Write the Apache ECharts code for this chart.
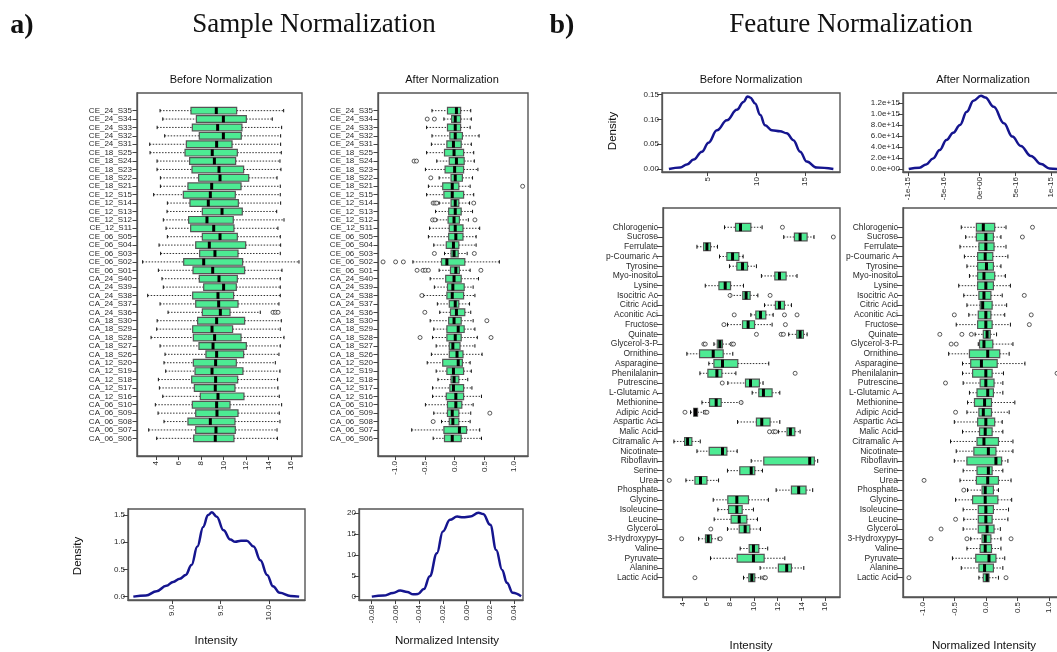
<!DOCTYPE html>
<html>
<head>
<meta charset="utf-8">
<title>Sample and feature normalization</title>
<script src="https://cdn.jsdelivr.net/npm/echarts@6/dist/echarts.min.js"></script>
<style>
html,body{margin:0;padding:0;background:#fff}
#main{width:1057px;height:652px}
</style>
</head>
<body>
<div id="main"></div>
<script>
// ---- a) sample normalization ----
var sampleNames = ['CE_24_S35','CE_24_S34','CE_24_S33','CE_24_S32','CE_24_S31','CE_18_S25','CE_18_S24','CE_18_S23','CE_18_S22','CE_18_S21',
  'CE_12_S15','CE_12_S14','CE_12_S13','CE_12_S12','CE_12_S11','CE_06_S05','CE_06_S04','CE_06_S03','CE_06_S02','CE_06_S01',
  'CA_24_S40','CA_24_S39','CA_24_S38','CA_24_S37','CA_24_S36','CA_18_S30','CA_18_S29','CA_18_S28','CA_18_S27','CA_18_S26',
  'CA_12_S20','CA_12_S19','CA_12_S18','CA_12_S17','CA_12_S16','CA_06_S10','CA_06_S09','CA_06_S08','CA_06_S07','CA_06_S06'];

// [lower whisker, q1, median, q3, upper whisker]
var sampleBefore = [
  [4.36,7.11,9.36,11.17,15.35],[4.60,7.59,9.99,12.03,14.34],[4.10,7.23,9.48,11.64,15.17],[4.77,7.85,9.99,11.58,15.08],
  [3.44,6.70,9.39,10.76,15.08],[3.47,6.58,9.00,11.23,15.14],[4.09,6.99,9.19,11.08,15.02],[4.09,7.20,9.60,11.79,15.11],
  [4.39,7.79,9.69,12.24,14.76],[4.39,6.84,8.95,11.56,15.05],[3.79,6.43,8.83,11.05,15.05],[5.01,7.02,8.65,11.32,15.08],
  [4.98,8.12,9.87,11.67,14.73],[4.65,6.90,8.53,10.87,15.38],[4.89,7.08,9.13,10.93,14.84],[5.01,8.12,9.69,11.23,15.05],
  [4.27,7.53,8.74,11.97,15.08],[4.41,7.88,9.24,11.29,15.05],[2.81,6.46,8.24,11.70,16.71],[4.21,7.29,9.04,11.88,15.20],
  [4.53,7.85,9.60,11.23,15.05],[4.65,8.24,10.01,11.14,15.05],[3.26,7.26,9.51,10.90,15.05],[4.36,7.53,9.57,11.29,14.93],
  [5.07,8.12,9.72,10.58,13.27],[4.10,7.70,9.39,11.88,15.14],[4.06,7.26,8.98,10.81,15.05],[3.56,7.32,9.21,11.56,15.38],
  [4.36,7.82,9.07,12.03,15.05],[4.80,8.44,9.39,11.79,14.93],[4.71,7.32,9.30,11.14,14.61],[4.86,7.47,8.98,11.73,15.02],
  [4.21,7.17,9.30,11.26,14.81],[4.30,7.41,9.27,11.02,14.84],[4.60,7.94,9.51,11.82,14.96],[3.94,7.23,9.39,10.58,15.17],
  [4.18,7.53,9.42,11.29,14.96],[4.71,6.84,8.83,11.02,15.02],[3.35,7.53,9.33,11.05,14.76],[4.06,7.35,9.27,10.93,14.79]
];
// outliers: [row (1 = top), value]
var sampleBeforeOut = [[25,14.40],[25,14.62],[25,14.85]];

var sampleAfter = [
  [-0.38,-0.12,0.03,0.10,0.27],[-0.18,-0.05,0.01,0.10,0.28],[-0.47,-0.12,0.01,0.10,0.26],[-0.38,-0.08,0.01,0.13,0.41],
  [-0.39,-0.13,-0.02,0.11,0.28],[-0.47,-0.17,-0.01,0.15,0.32],[-0.30,-0.09,0.03,0.16,0.33],[-0.49,-0.16,0.00,0.15,0.39],
  [-0.26,-0.06,0.01,0.13,0.30],[-0.44,-0.20,-0.04,0.07,0.26],[-0.47,-0.18,-0.04,0.15,0.32],[-0.26,-0.06,0.01,0.07,0.25],
  [-0.32,-0.10,0.01,0.11,0.30],[-0.30,-0.11,-0.01,0.08,0.23],[-0.42,-0.09,0.01,0.14,0.42],[-0.44,-0.10,0.02,0.14,0.36],
  [-0.35,-0.14,-0.02,0.07,0.36],[-0.17,-0.06,-0.01,0.06,0.21],[-0.70,-0.22,-0.13,0.17,0.75],[-0.26,-0.07,0.02,0.08,0.26],
  [-0.41,-0.15,-0.01,0.11,0.40],[-0.34,-0.12,-0.03,0.16,0.31],[-0.52,-0.13,-0.04,0.15,0.34],[-0.29,-0.09,0.01,0.07,0.25],
  [-0.25,-0.07,0.03,0.17,0.27],[-0.41,-0.10,-0.01,0.11,0.31],[-0.35,-0.13,0.06,0.16,0.34],[-0.37,-0.13,0.01,0.11,0.38],
  [-0.31,-0.09,-0.03,0.09,0.34],[-0.39,-0.09,0.04,0.14,0.46],[-0.46,-0.20,0.06,0.13,0.26],[-0.31,-0.13,-0.02,0.15,0.28],
  [-0.28,-0.06,-0.01,0.07,0.22],[-0.37,-0.08,-0.02,0.15,0.29],[-0.37,-0.14,0.02,0.15,0.45],[-0.49,-0.12,0.02,0.12,0.31],
  [-0.35,-0.12,-0.04,0.07,0.27],[-0.22,-0.09,-0.03,0.07,0.26],[-0.72,-0.18,0.08,0.20,0.42],[-0.36,-0.17,-0.04,0.11,0.45]
];
var sampleAfterOut = [[2,-0.46],[2,-0.34],[7,-0.68],[7,-0.64],[9,-0.40],[10,1.14],[12,-0.36],[12,-0.33],[12,-0.30],[12,0.32],
  [14,-0.37],[14,-0.33],[14,0.34],[18,-0.34],[18,0.33],[19,-1.20],[19,-0.99],[19,-0.86],[20,-0.63],[20,-0.53],[20,-0.49],
  [20,-0.44],[20,0.44],[23,-0.55],[25,-0.50],[26,0.54],[28,-0.58],[28,0.61],[37,0.59],[38,-0.36]];

// density curves [x, density]
var sampleBeforeDens = [[8.60,0],[8.73,0.02],[8.84,0.10],[8.94,0.20],[9.01,0.27],[9.08,0.33],[9.14,0.40],[9.20,0.58],
  [9.26,0.92],[9.32,1.28],[9.37,1.50],[9.41,1.55],[9.46,1.47],[9.53,1.22],[9.60,1.05],[9.65,1.01],[9.71,1.03],[9.77,1.03],
  [9.84,0.92],[9.91,0.67],[9.98,0.40],[10.04,0.19],[10.11,0.07],[10.22,0.01],[10.31,0]];
var sampleAfterDens = [[-0.0799,0],[-0.070,0.24],[-0.062,0.88],[-0.056,1.45],[-0.050,1.10],[-0.045,0.55],[-0.041,0.62],
  [-0.036,1.8],[-0.031,4.9],[-0.025,10.4],[-0.020,15.6],[-0.014,18.4],[-0.008,19.2],[-0.003,19.0],[0.003,19.2],[0.010,20.1],
  [0.014,19.8],[0.020,17.2],[0.025,11.2],[0.030,6.4],[0.034,3.3],[0.039,0.9],[0.046,0.08]];

// ---- b) feature normalization ----
var featureNames = ['Chlorogenic','Sucrose','Ferrulate','p-Coumaric A','Tyrosine','Myo-inositol','Lysine','Isocitric Ac',
  'Citric Acid','Aconitic Aci','Fructose','Quinate','Glycerol-3-P','Ornithine','Asparagine','Phenilalanin','Putrescine',
  'L-Glutamic A','Methionine','Adipic Acid','Aspartic Aci','Malic Acid','Citramalic A','Nicotinate','Riboflavin','Serine',
  'Urea','Phosphate','Glycine','Isoleucine','Leucine','Glycerol','3-Hydroxypyr','Valine','Pyruvate','Alanine','Lactic Acid'];

var featBefore = [
  [7.53,8.46,8.88,9.75,10.70],[12.52,13.42,13.90,14.49,15.07],[5.21,5.77,6.05,6.35,6.94],[7.11,7.73,8.21,8.74,9.10],
  [7.95,8.57,9.05,9.47,10.22],[10.64,11.77,12.16,12.72,13.64],[5.91,7.06,7.59,8.04,9.13],[8.04,9.07,9.35,9.69,10.34],
  [10.90,11.82,12.16,12.58,13.17],[9.75,10.17,10.56,11.01,11.63],[7.78,9.05,9.52,10.06,11.54],[12.94,13.62,13.90,14.18,14.49],
  [6.64,6.92,7.14,7.36,8.04],[4.36,5.43,6.58,7.42,8.23],[6.21,6.64,7.36,8.65,11.26],[5.46,6.13,6.89,7.31,8.49],
  [7.81,9.30,9.72,10.47,10.78],[9.86,10.42,10.81,11.54,12.19],[5.63,6.27,6.83,7.25,8.99],[4.67,4.93,5.09,5.26,5.77],
  [8.63,10.22,10.67,11.37,12.19],[12.07,12.80,13.08,13.45,13.90],[3.27,4.17,4.42,4.78,5.49],[5.21,6.24,7.36,7.73,8.60],
  [9.78,10.84,14.71,15.10,15.38],[7.78,8.82,9.78,10.08,10.73],[4.28,5.04,5.51,6.05,7.03],[11.88,13.17,13.78,14.40,14.96],
  [6.58,7.81,8.57,9.55,11.23],[6.97,7.87,8.57,9.02,9.97],[6.66,8.09,8.77,9.41,10.31],[7.78,8.77,9.27,9.66,10.56],
  [5.35,5.93,6.16,6.44,7.00],[8.85,9.61,9.97,10.42,11.17],[6.35,8.60,9.97,10.87,12.61],[10.53,12.07,12.77,13.17,14.21],
  [9.13,9.58,9.83,10.08,10.59]
];
var featBeforeOut = [[1,12.41],[2,16.70],[8,8.00],[8,11.37],[10,8.35],[10,12.58],[10,13.64],[11,7.48],[11,12.66],
  [12,10.22],[12,12.30],[12,12.49],[13,5.79],[13,5.91],[13,8.15],[13,8.29],[16,13.48],[17,7.34],[19,8.93],[20,4.20],
  [20,5.91],[20,6.05],[22,11.32],[22,11.65],[22,11.82],[27,2.88],[32,6.38],[33,3.92],[33,7.17],[37,5.04],[37,10.87],[37,10.98]];

var featAfter = [
  [-0.39,-0.15,-0.04,0.14,0.32],[-0.32,-0.15,0.00,0.12,0.24],[-0.41,-0.11,0.00,0.13,0.32],[-0.34,-0.13,-0.01,0.11,0.35],
  [-0.30,-0.13,0.01,0.12,0.24],[-0.26,-0.13,-0.03,0.14,0.31],[-0.43,-0.13,0.00,0.12,0.39],[-0.35,-0.11,-0.03,0.08,0.26],
  [-0.30,-0.09,-0.05,0.10,0.33],[-0.27,-0.12,0.00,0.08,0.30],[-0.47,-0.13,0.00,0.10,0.39],[-0.17,-0.04,0.02,0.07,0.17],
  [-0.12,-0.10,-0.03,0.11,0.43],[-0.59,-0.26,0.03,0.22,0.37],[-0.37,-0.24,-0.07,0.18,0.62],[-0.37,-0.21,0.00,0.10,0.28],
  [-0.36,-0.09,0.00,0.13,0.27],[-0.26,-0.14,0.03,0.12,0.27],[-0.29,-0.18,-0.02,0.09,0.46],[-0.30,-0.11,-0.04,0.09,0.37],
  [-0.50,-0.13,0.00,0.14,0.26],[-0.37,-0.10,-0.01,0.10,0.27],[-0.56,-0.14,-0.03,0.20,0.43],[-0.47,-0.19,0.04,0.16,0.43],
  [-0.50,-0.30,0.16,0.25,0.35],[-0.36,-0.14,0.04,0.10,0.27],[-0.41,-0.15,0.03,0.20,0.40],[-0.29,-0.06,-0.01,0.12,0.20],
  [-0.48,-0.21,-0.01,0.19,0.41],[-0.36,-0.12,0.00,0.12,0.36],[-0.35,-0.12,0.00,0.10,0.35],[-0.36,-0.12,0.02,0.13,0.23],
  [-0.24,-0.06,-0.01,0.08,0.24],[-0.30,-0.09,-0.01,0.09,0.24],[-0.53,-0.16,0.05,0.16,0.30],[-0.39,-0.11,-0.02,0.12,0.27],
  [-0.11,-0.04,0.02,0.05,0.20]
];
var featAfterOut = [[1,0.74],[2,0.58],[8,0.61],[10,-0.50],[10,0.72],[11,0.69],[12,-0.73],[12,-0.38],[12,-0.23],
  [13,-0.55],[13,-0.47],[16,1.13],[17,-0.64],[20,-0.48],[27,-0.98],[28,-0.35],[31,-0.48],[32,-0.71],[33,-0.87],
  [33,-0.30],[33,0.40],[37,-1.22],[37,0.32]];

var featBeforeDens = [[1.04,0],[2.2,0.003],[2.88,0.009],[3.57,0.019],[4.42,0.035],[5.10,0.053],[5.96,0.078],[6.98,0.098],
  [8.0,0.119],[8.69,0.135],[9.1,0.146],[9.37,0.144],[9.88,0.132],[10.39,0.109],[10.9,0.088],[11.59,0.078],[12.44,0.076],
  [13.12,0.072],[13.8,0.058],[14.49,0.035],[15.17,0.015],[16.19,0.003],[17.9,0]];
// x in units of 1e-16, density in units of 1e14
var featAfterDens = [[-9.9,0],[-8.4,0.24],[-7.46,0.85],[-6.5,1.94],[-5.57,3.45],[-4.63,5.27],[-3.68,6.6],[-2.74,8.0],
  [-1.79,10.4],[-0.85,12.4],[0.2,13.3],[0.8,13.0],[1.98,11.3],[3.4,8.3],[4.58,5.9],[5.76,4.2],[7.18,2.36],[8.6,0.9],
  [9.77,0.12],[10.95,0]];

// tick values and labels
var intensityTicks = [4,6,8,10,12,14,16];
var intensityLabels = ['4','6','8','10','12','14','16'];
var normTicks = [-1,-0.5,0,0.5,1];
var normLabels = ['-1.0','-0.5','0.0','0.5','1.0'];
var sDensBeforeXTicks = [9,9.5,10];
var sDensBeforeXLabels = ['9.0','9.5','10.0'];
var sDensBeforeYTicks = [0,0.5,1,1.5];
var sDensBeforeYLabels = ['0.0','0.5','1.0','1.5'];
var sDensAfterXTicks = [-0.08,-0.06,-0.04,-0.02,0,0.02,0.04];
var sDensAfterXLabels = ['-0.08','-0.06','-0.04','-0.02','0.00','0.02','0.04'];
var sDensAfterYTicks = [0,5,10,15,20];
var sDensAfterYLabels = ['0','5','10','15','20'];
var fDensBeforeXTicks = [5,10,15];
var fDensBeforeXLabels = ['5','10','15'];
var fDensBeforeYTicks = [0,0.05,0.1,0.15];
var fDensBeforeYLabels = ['0.00','0.05','0.10','0.15'];
var fDensAfterXTicks = [-10,-5,0,5,10];
var fDensAfterXLabels = ['-1e-15','-5e-16','0e+00','5e-16','1e-15'];
var fDensAfterYTicks = [0,2,4,6,8,10,12];
var fDensAfterYLabels = ['0.0e+00','2.0e+14','4.0e+14','6.0e+14','8.0e+14','1.0e+15','1.2e+15'];

var FONT = 'Liberation Sans';
var BOX_FILL = '#4DEB93';
var LINE_BLUE = '#15158f';

function pick(ticks, labels) {
  return function (v) {
    var best = 0;
    for (var i = 1; i < ticks.length; i++) {
      if (Math.abs(ticks[i] - v) < Math.abs(ticks[best] - v)) best = i;
    }
    return labels[best];
  };
}

function axis(gi, min, max, ticks, labels, rotate, inverse, fs, tl, mg) {
  return {
    gridIndex: gi, type: 'value', min: min, max: max, inverse: !!inverse,
    axisLine: { show: true, onZero: false, lineStyle: { color: '#555', width: 1.3 } },
    axisTick: { show: true, customValues: ticks, length: tl || 4.5, lineStyle: { color: '#444' } },
    axisLabel: { customValues: ticks, formatter: pick(ticks, labels), rotate: rotate, fontSize: fs || 8,
      color: '#2a2a2a', fontFamily: FONT, margin: mg == null ? 4 : mg },
    splitLine: { show: false }
  };
}

function rowIdx(names) { return names.map(function (_, i) { return i + 1; }); }

function renderBox(params, api) {
  var pos = api.value(0);
  var lo = api.coord([api.value(1), pos]);
  var q1 = api.coord([api.value(2), pos]);
  var md = api.coord([api.value(3), pos]);
  var q3 = api.coord([api.value(4), pos]);
  var hi = api.coord([api.value(5), pos]);
  var h = Math.abs(api.size([0, 1])[1]) * 0.4;
  var cy = lo[1];
  var cap = h * 0.5;
  var dash = { stroke: '#333', lineWidth: 1, lineDash: [1.5, 1.5] };
  var solid = { stroke: '#111', lineWidth: 1 };
  return {
    type: 'group',
    children: [
      { type: 'line', shape: { x1: lo[0], y1: cy, x2: q1[0], y2: cy }, style: dash },
      { type: 'line', shape: { x1: q3[0], y1: cy, x2: hi[0], y2: cy }, style: dash },
      { type: 'line', shape: { x1: lo[0], y1: cy - cap, x2: lo[0], y2: cy + cap }, style: solid },
      { type: 'line', shape: { x1: hi[0], y1: cy - cap, x2: hi[0], y2: cy + cap }, style: solid },
      { type: 'rect', shape: { x: q1[0], y: cy - h, width: q3[0] - q1[0], height: 2 * h },
        style: { fill: BOX_FILL, stroke: '#555', lineWidth: 1.2 } },
      { type: 'line', shape: { x1: md[0], y1: cy - h, x2: md[0], y2: cy + h }, style: { stroke: '#000', lineWidth: 3 } }
    ]
  };
}

function boxSeries(rows, ai) {
  return {
    type: 'custom', xAxisIndex: ai, yAxisIndex: ai,
    data: rows.map(function (r, i) { return [i + 1].concat(r); }),
    encode: { x: [1, 2, 3, 4, 5], y: 0 },
    renderItem: renderBox, silent: true
  };
}

function outSeries(outs, ai) {
  return {
    type: 'scatter', xAxisIndex: ai, yAxisIndex: ai, symbol: 'circle', symbolSize: 4,
    data: outs.map(function (o) { return [o[1], o[0]]; }),
    itemStyle: { color: '#fff', borderColor: '#333', borderWidth: 1 }, silent: true
  };
}

function densSeries(pts, ai) {
  return {
    type: 'line', xAxisIndex: ai, yAxisIndex: ai, data: pts, smooth: 0.4, smoothMonotone: 'x',
    showSymbol: false, lineStyle: { color: LINE_BLUE, width: 2.5 }, silent: true
  };
}

function grid(l, t, w, h) {
  return { left: l, top: t, width: w, height: h, show: true, borderColor: '#555', borderWidth: 1.4,
    outerBoundsMode: 'none', containLabel: false };
}

function txt(x, y, s, size, family, weight, rot) {
  return {
    type: 'text', x: x, y: y, rotation: rot || 0, silent: true,
    style: { text: s, x: 0, y: 0, align: 'center', verticalAlign: 'middle', fontSize: size,
      fontFamily: family, fontWeight: weight || 'normal', fill: '#111' }
  };
}

var chart = echarts.init(document.getElementById('main'));
chart.setOption({
  animation: false,
  backgroundColor: '#fff',
  grid: [
    grid(137, 93, 165, 363),    // 0 sample before box
    grid(378, 93, 150, 363),    // 1 sample after box
    grid(128, 509, 177, 91),    // 2 sample before density
    grid(359, 509, 164, 91),    // 3 sample after density
    grid(662, 93, 178, 79),     // 4 feature before density
    grid(903, 93, 161, 79),     // 5 feature after density
    grid(663, 208, 177, 389),   // 6 feature before box
    grid(903, 208, 160, 389)    // 7 feature after box
  ],
  xAxis: [
    axis(0, 2.31, 16.98, intensityTicks, intensityLabels, 90, false, 8, 4, 5),
    axis(1, -1.285, 1.23, normTicks, normLabels, 90, false, 8, 4, 5),
    axis(2, 8.545, 10.37, sDensBeforeXTicks, sDensBeforeXLabels, 90, false, 8, 4, 5),
    axis(3, -0.0907, 0.0476, sDensAfterXTicks, sDensAfterXLabels, 90, false, 8, 4, 5),
    axis(4, 0.33, 18.58, fDensBeforeXTicks, fDensBeforeXLabels, 90, false, 8, 4, 5),
    axis(5, -10.7, 11.8, fDensAfterXTicks, fDensAfterXLabels, 90, false, 8, 4, 5),
    axis(6, 2.35, 17.26, intensityTicks, intensityLabels, 90, false, 8, 4, 5),
    axis(7, -1.314, 1.224, normTicks, normLabels, 90, false, 8, 4, 5)
  ],
  yAxis: [
    axis(0, -1.1, 42.1, rowIdx(sampleNames), sampleNames, 0, true, 8, 4.5, 5),
    axis(1, -1.1, 42.1, rowIdx(sampleNames), sampleNames, 0, true, 8, 4.5, 5),
    axis(2, -0.062, 1.612, sDensBeforeYTicks, sDensBeforeYLabels, 0, false, 8, 5, 3),
    axis(3, -0.81, 21.0, sDensAfterYTicks, sDensAfterYLabels, 0, false, 8, 5, 3),
    axis(4, -0.0059, 0.1529, fDensBeforeYTicks, fDensBeforeYLabels, 0, false, 8, 5, 3),
    axis(5, -0.53, 13.8, fDensAfterYTicks, fDensAfterYLabels, 0, false, 8, 5, 3),
    axis(6, -0.98, 38.98, rowIdx(featureNames), featureNames, 0, true, 8.5, 6, 5),
    axis(7, -0.98, 38.98, rowIdx(featureNames), featureNames, 0, true, 8.5, 6, 5)
  ],
  series: [
    boxSeries(sampleBefore, 0), outSeries(sampleBeforeOut, 0),
    boxSeries(sampleAfter, 1), outSeries(sampleAfterOut, 1),
    densSeries(sampleBeforeDens, 2),
    densSeries(sampleAfterDens, 3),
    densSeries(featBeforeDens, 4),
    densSeries(featAfterDens, 5),
    boxSeries(featBefore, 6), outSeries(featBeforeOut, 6),
    boxSeries(featAfter, 7), outSeries(featAfterOut, 7)
  ],
  graphic: [
    txt(22, 26, 'a)', 28, 'Liberation Serif', 'bold'),
    txt(314, 25, 'Sample Normalization', 27, 'Liberation Serif'),
    txt(562, 26, 'b)', 28, 'Liberation Serif', 'bold'),
    txt(851, 25, 'Feature Normalization', 27, 'Liberation Serif'),
    txt(221, 80, 'Before Normalization', 11, FONT),
    txt(452, 80, 'After Normalization', 11, FONT),
    txt(751, 80, 'Before Normalization', 11, FONT),
    txt(983, 80, 'After Normalization', 11, FONT),
    txt(78, 556, 'Density', 11.5, FONT, 'normal', Math.PI / 2),
    txt(613, 131, 'Density', 11.5, FONT, 'normal', Math.PI / 2),
    txt(216, 641, 'Intensity', 11.5, FONT),
    txt(447, 641, 'Normalized Intensity', 11.5, FONT),
    txt(751, 646, 'Intensity', 11.5, FONT),
    txt(984, 646, 'Normalized Intensity', 11.5, FONT)
  ]
});
</script>
</body>
</html>
